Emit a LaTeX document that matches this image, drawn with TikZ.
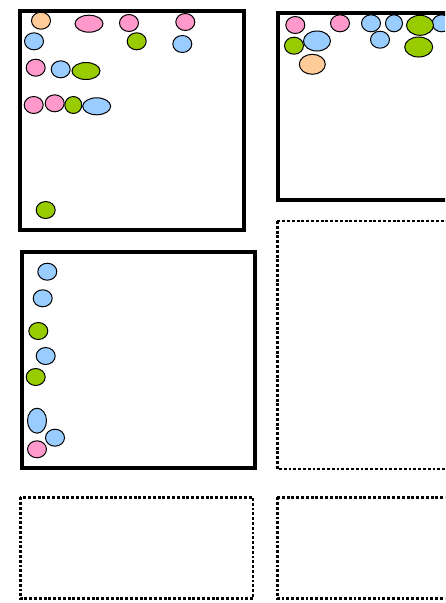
\documentclass[tikz,border=0pt]{standalone}
\usepackage{tikz}
\usetikzlibrary{shapes.geometric}
\definecolor{cellpink}{HTML}{FF99CC}
\definecolor{cellblue}{HTML}{99CCFF}
\definecolor{cellgreen}{HTML}{99CC00}
\definecolor{cellorange}{HTML}{FFCC99}

\begin{document}
\begin{tikzpicture}[
    x=1pt,
    y=-1pt,
    cell/.style={
        ellipse,
        draw=black,
        line width=1pt,
        inner sep=0pt,
        minimum width=19pt,
        minimum height=17pt
    },
    wide/.style={minimum width=28pt},
    big/.style={minimum width=27pt, minimum height=20pt},
    pinkcell/.style={cell, fill=cellpink},
    bluecell/.style={cell, fill=cellblue},
    greencell/.style={cell, fill=cellgreen},
    orangecell/.style={cell, fill=cellorange},
    frame/.style={draw=black, line width=4pt},
    slot/.style={draw=black, line width=2.9pt, dash pattern=on 2.9pt off 1.9pt}
]
\useasboundingbox (0,0) rectangle (445,603);
\clip (0,0) rectangle (445,603);

% frames
\draw[frame] (20.3,11.3) rectangle (244,230);
\draw[frame] (278,13) rectangle (470,200);
\draw[frame] (21.5,252) rectangle (254.5,467.5);

% empty slots
\draw[slot] (277.3,221) rectangle (470,469);
\draw[slot] (20.3,497.3) rectangle (253,598.7);
\draw[slot] (277.3,497.3) rectangle (470,598.7);

% first frame
\node[orangecell] (a1) at (41,20.7) {};
\node[pinkcell, wide] (a2) at (89,23.7) {};
\node[pinkcell] (a3) at (129,23) {};
\node[pinkcell] (a4) at (185.3,22) {};
\node[bluecell] (a5) at (34,41.3) {};
\node[greencell] (a6) at (136.7,41.3) {};
\node[bluecell] (a7) at (182.3,44) {};
\node[pinkcell] (a8) at (35.7,67.7) {};
\node[bluecell] (a9) at (60.7,69.3) {};
\node[greencell, wide] (a10) at (86,71) {};
\node[pinkcell] (a11) at (33.7,105) {};
\node[pinkcell] (a12) at (54.7,103.3) {};
\node[greencell, minimum width=17pt] (a13) at (73.3,105) {};
\node[bluecell, wide] (a14) at (96.7,106.3) {};
\node[greencell] (a15) at (45.7,210) {};

% second frame
\node[pinkcell] (b1) at (295.3,25) {};
\node[pinkcell] (b2) at (340,23.3) {};
\node[bluecell] (b3) at (371,23.3) {};
\node[bluecell, minimum width=17pt] (b4) at (394,23.3) {};
\node[bluecell] (b6) at (441.7,23.3) {};
\node[greencell, big] (b5) at (420,25.3) {};
\node[greencell] (b7) at (294,45.7) {};
\node[bluecell, big] (b8) at (317,41) {};
\node[bluecell] (b9) at (380,39.7) {};
\node[greencell, big, minimum width=28pt] (b10) at (418.7,47) {};
\node[orangecell, big, minimum width=26pt] (b11) at (312.3,64.3) {};

% third frame
\node[bluecell] (c1) at (47.3,271.7) {};
\node[bluecell] (c2) at (42.7,298.3) {};
\node[greencell] (c3) at (38.3,331) {};
\node[bluecell] (c4) at (45.7,356) {};
\node[greencell] (c5) at (35.7,377) {};
\node[bluecell, minimum height=25pt] (c6) at (37,420.7) {};
\node[bluecell] (c7) at (55,437.7) {};
\node[pinkcell] (c8) at (37,449.3) {};

\end{tikzpicture}
\end{document}
